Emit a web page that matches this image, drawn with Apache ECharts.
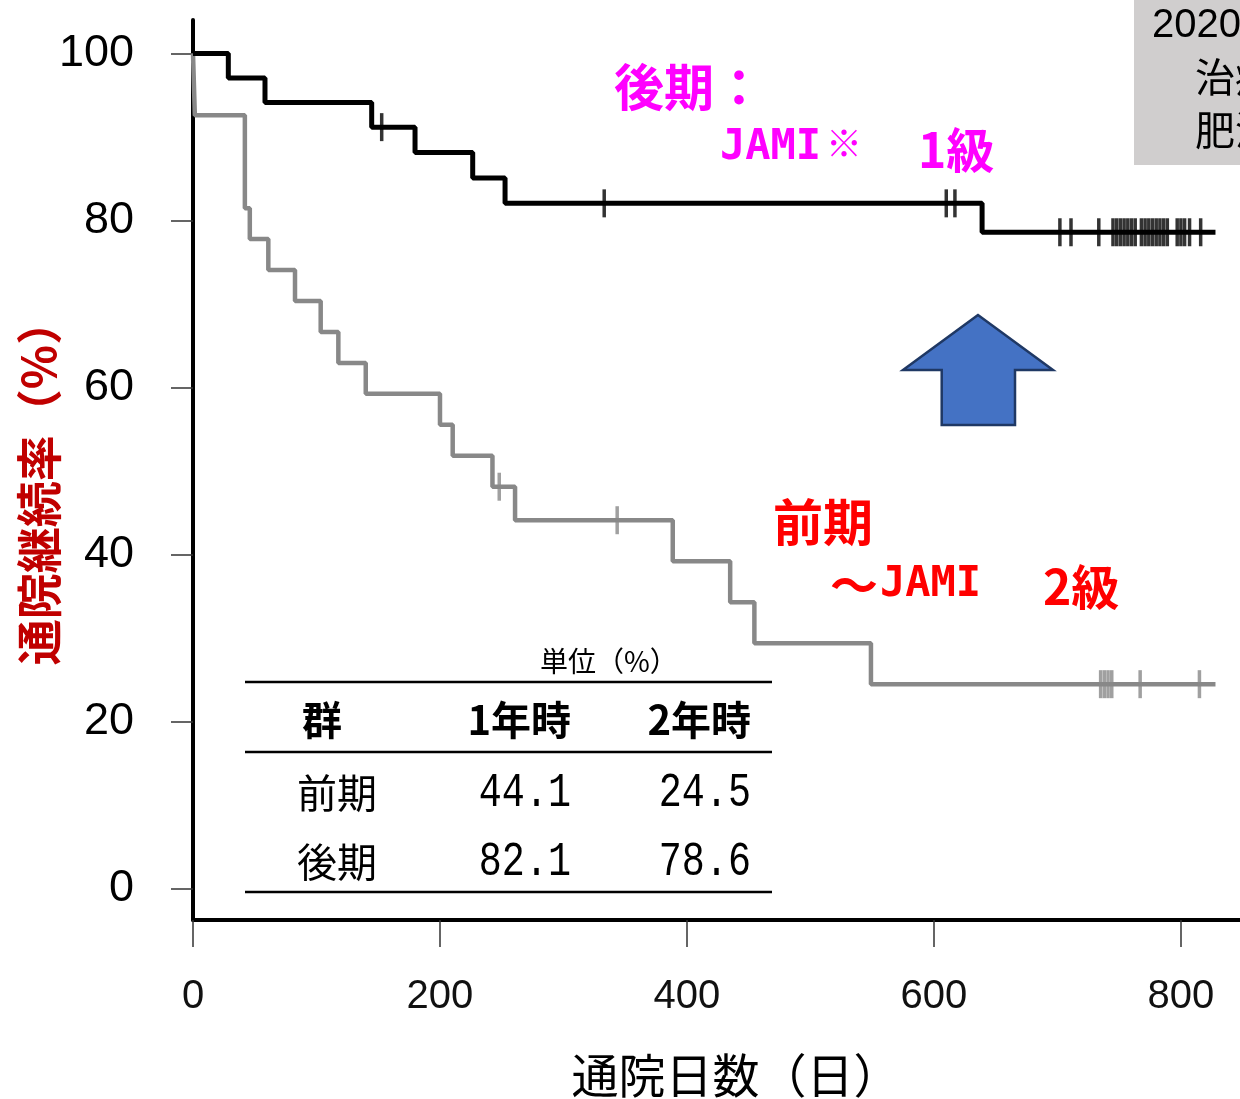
<!DOCTYPE html>
<html><head><meta charset="utf-8">
<script src="https://cdn.jsdelivr.net/npm/echarts@6/dist/echarts.min.js"></script>
<style>html,body{margin:0;padding:0;background:#fff}#c{width:1240px;height:1099px}</style>
</head><body><div id="c"></div>
<script>
// Kaplan–Meier step data (days, survival %)
const lateTimes = [0, 28.6, 58.3, 144.7, 179.8, 226.5, 252.7, 639, 828];
const lateSurv  = [100, 97.06, 94.12, 91.18, 88.14, 85.10, 82.06, 78.6, 78.6];
const lateCensor = [152.8, 333, 610, 617, 702, 711, 733.5, 745, 748, 751, 754, 757, 760, 763, 768, 771, 774, 777, 780, 783, 786, 789, 797, 800, 803, 807, 816];

const earlyTimes = [0, 1.5, 42, 46, 61, 82.6, 103.4, 117.7, 139.9, 200, 210.3, 242.5, 260.8, 388.5, 435, 454.6, 549, 828];
const earlySurv  = [100, 92.59, 81.48, 77.78, 74.07, 70.37, 66.67, 62.96, 59.26, 55.56, 51.85, 48.15, 44.14, 39.24, 34.33, 29.43, 24.52, 24.52];
const earlyCensor = [248, 343.5, 735, 738, 741, 744, 767, 815];

const xTicks = [0, 200, 400, 600, 800];
const yTicks = [0, 20, 40, 60, 80, 100];

// Summary table
const tableUnit = '単位（%）';
const tableHeader = ['群', '1年時', '2年時'];
const tableGroups = ['前期', '後期'];
const tableYear1 = ['44.1', '82.1'];
const tableYear2 = ['24.5', '78.6'];

function survAt(times, surv, t) {
  let v = surv[0];
  for (let i = 0; i < times.length; i++) { if (times[i] <= t) v = surv[i]; }
  return v;
}
const zip = (a, b) => a.map((v, i) => [v, b[i]]);

const chart = echarts.init(document.getElementById('c'), null, {renderer: 'canvas'});
const JP = '"Noto Sans CJK JP", sans-serif';
const MONO = '"Liberation Mono", "DejaVu Sans Mono", monospace';

const tableGraphics = [];
const lineStyleT = {stroke: '#000', lineWidth: 2.5};
[682, 752, 892].forEach(y => tableGraphics.push({type: 'line', shape: {x1: 245, y1: y, x2: 772, y2: y}, style: lineStyleT}));
tableGraphics.push({type: 'text', x: 540, y: 661, style: {text: tableUnit, font: '28px ' + JP, fill: '#000', verticalAlign: 'middle', align: 'left'}});
tableGraphics.push({type: 'text', x: 322, y: 720, style: {text: tableHeader[0], font: 'bold 40px ' + JP, fill: '#000', verticalAlign: 'middle', align: 'center'}});
tableGraphics.push({type: 'text', x: 571, y: 720, style: {text: tableHeader[1], font: 'bold 40px ' + JP, fill: '#000', verticalAlign: 'middle', align: 'right'}});
tableGraphics.push({type: 'text', x: 751, y: 720, style: {text: tableHeader[2], font: 'bold 40px ' + JP, fill: '#000', verticalAlign: 'middle', align: 'right'}});
const rowY = [793, 862];
tableGroups.forEach((g, i) => {
  tableGraphics.push({type: 'text', x: 297, y: rowY[i], style: {text: g, font: '40px ' + JP, fill: '#000', verticalAlign: 'middle', align: 'left'}});
  tableGraphics.push({type: 'text', x: 571, y: rowY[i], scaleX: 0.8, style: {text: tableYear1[i], font: '48px ' + MONO, fill: '#000', verticalAlign: 'middle', align: 'right'}});
  tableGraphics.push({type: 'text', x: 751, y: rowY[i], scaleX: 0.8, style: {text: tableYear2[i], font: '48px ' + MONO, fill: '#000', verticalAlign: 'middle', align: 'right'}});
});

const option = {
  animation: false,
  backgroundColor: '#fff',
  grid: {left: 193, top: 20, width: 1062, height: 900, containLabel: false, outerBoundsMode: 'none'},
  xAxis: {
    type: 'value', min: 0, max: 860,
    axisLine: {show: true, onZero: false, lineStyle: {color: '#000', width: 4}},
    axisTick: {show: true, customValues: xTicks, length: 27, lineStyle: {color: '#333', width: 1.5}},
    axisLabel: {customValues: xTicks, fontSize: 40, color: '#111', margin: 57, fontFamily: '"Liberation Sans", Arial, sans-serif'},
    splitLine: {show: false},
    name: '通院日数（日）', nameLocation: 'middle', nameGap: 132,
    nameTextStyle: {fontSize: 47, color: '#000', fontFamily: JP, padding: [0, 0, 0, 24]}
  },
  yAxis: {
    type: 'value', min: -3.7, max: 104,
    axisLine: {show: true, onZero: false, lineStyle: {color: '#000', width: 4}},
    axisTick: {show: true, customValues: yTicks, length: 22, lineStyle: {color: '#333', width: 1.5}},
    axisLabel: {customValues: yTicks, fontSize: 45, color: '#000', margin: 59, fontFamily: '"Liberation Sans", Arial, sans-serif'},
    splitLine: {show: false},
    name: '通院継続率（%）', nameLocation: 'middle', nameGap: 131, nameMoveOverlap: false,
    nameTextStyle: {fontSize: 46, fontWeight: 'bold', color: '#C00000', fontFamily: JP, padding: [0, 24, 0, 0]}
  },
  series: [
    {type: 'line', name: '前期', step: 'end', showSymbol: false, symbol: 'none', data: zip(earlyTimes, earlySurv),
     lineStyle: {color: '#888888', width: 4.5}, z: 3},
    {type: 'line', name: '後期', step: 'end', showSymbol: false, symbol: 'none', data: zip(lateTimes, lateSurv),
     lineStyle: {color: '#000', width: 5}, z: 4},
    {type: 'scatter', name: '前期打ち切り', symbol: 'rect', symbolSize: [3.5, 28],
     data: earlyCensor.map(t => [t, survAt(earlyTimes, earlySurv, t)]), itemStyle: {color: '#888888'}, z: 3},
    {type: 'scatter', name: '後期打ち切り', symbol: 'rect', symbolSize: [3.5, 28],
     data: lateCensor.map(t => [t, survAt(lateTimes, lateSurv, t)]), itemStyle: {color: '#000'}, z: 4}
  ],
  graphic: [
    {type: 'rect', shape: {x: 1134, y: 0, width: 120, height: 165}, style: {fill: '#D0CECE'}, z: 1},
    {type: 'text', x: 1152, y: 26, style: {text: '2020年', font: '40px "Liberation Sans", ' + JP, fill: '#000', verticalAlign: 'middle'}, z: 2},
    {type: 'text', x: 1195, y: 77, style: {text: '治療', font: '40px ' + JP, fill: '#000', verticalAlign: 'middle'}, z: 2},
    {type: 'text', x: 1195, y: 130, style: {text: '肥満', font: '40px ' + JP, fill: '#000', verticalAlign: 'middle'}, z: 2},
    {type: 'polygon', shape: {points: [[978, 315], [903, 370], [941.7, 370], [941.7, 425], [1015, 425], [1015, 370], [1053, 370]]},
     style: {fill: '#4472C4', stroke: '#1F3864', lineWidth: 2.5}, z: 2},
    {type: 'text', x: 614, y: 87, style: {text: '後期：', font: 'bold 50px ' + JP, fill: '#FF00FF', verticalAlign: 'middle'}, z: 2},
    {type: 'text', x: 720, y: 148, style: {text: 'JAMI', font: 'bold 42px "DejaVu Sans Mono", monospace', fill: '#FF00FF', verticalAlign: 'middle'}, z: 2},
    {type: 'text', x: 826, y: 143, style: {text: '※', font: 'bold 36px ' + JP, fill: '#FF00FF', verticalAlign: 'middle'}, z: 2},
    {type: 'text', x: 918, y: 150, style: {text: '1級', font: 'bold 48px ' + JP, fill: '#FF00FF', verticalAlign: 'middle'}, z: 2},
    {type: 'text', x: 773, y: 522, style: {text: '前期', font: 'bold 50px ' + JP, fill: '#FF0000', verticalAlign: 'middle'}, z: 2},
    {type: 'text', x: 830, y: 585, style: {text: '～', font: 'bold 48px ' + JP, fill: '#FF0000', verticalAlign: 'middle'}, z: 2},
    {type: 'text', x: 880, y: 585, style: {text: 'JAMI', font: 'bold 42px "DejaVu Sans Mono", monospace', fill: '#FF0000', verticalAlign: 'middle'}, z: 2},
    {type: 'text', x: 1043, y: 587, style: {text: '2級', font: 'bold 48px ' + JP, fill: '#FF0000', verticalAlign: 'middle'}, z: 2}
  ].concat(tableGraphics)
};
chart.setOption(option);
</script>
</body></html>
